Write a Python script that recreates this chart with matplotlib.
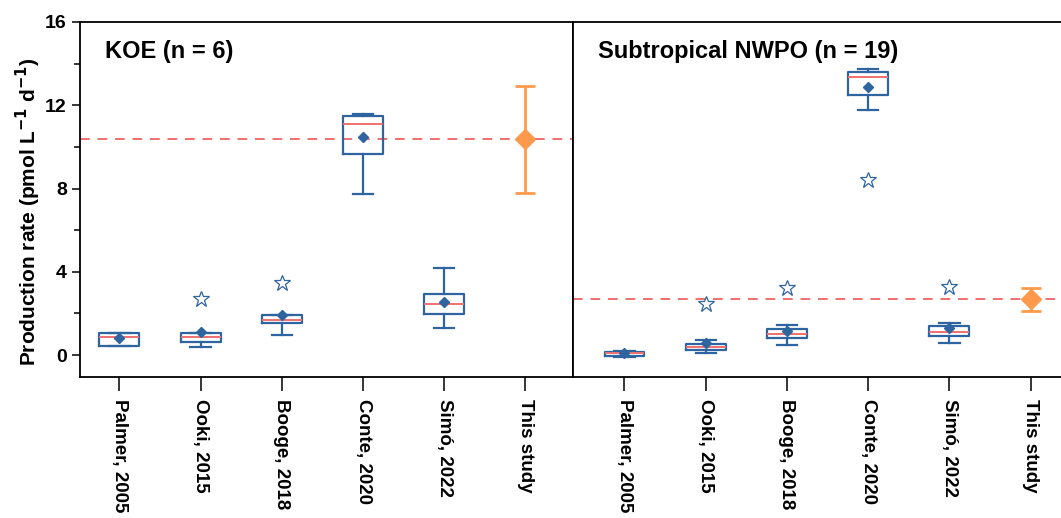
import matplotlib.pyplot as plt
import numpy as np

plt.rcParams['font.family'] = ['Liberation Sans', 'DejaVu Sans']
plt.rcParams['font.weight'] = 'bold'

studies = ['Palmer, 2005', 'Ooki, 2015', 'Booge, 2018', 'Conte, 2020', 'Simó, 2022', 'This study']

# KOE: box stats of earlier studies (whislo, q1, med, q3, whishi, mean, outlier)
koe_whislo = [0.45, 0.38, 0.99, 7.72, 1.28]
koe_q1 = [0.45, 0.61, 1.52, 9.68, 1.96]
koe_med = [0.85, 0.87, 1.68, 11.12, 2.48]
koe_q3 = [1.07, 1.07, 1.94, 11.49, 2.93]
koe_whishi = [1.07, 1.07, 1.94, 11.59, 4.18]
koe_mean = [0.80, 1.09, 1.91, 10.47, 2.56]
koe_fliers = [[], [2.72], [3.48], [], []]
koe_this = 10.37
koe_this_lo = 7.80
koe_this_hi = 12.93

# Subtropical NWPO
nwpo_whislo = [-0.08, 0.11, 0.51, 11.78, 0.58]
nwpo_q1 = [-0.02, 0.24, 0.82, 12.47, 0.90]
nwpo_med = [0.08, 0.40, 1.02, 13.38, 1.11]
nwpo_q3 = [0.16, 0.54, 1.25, 13.59, 1.38]
nwpo_whishi = [0.21, 0.72, 1.44, 13.76, 1.54]
nwpo_mean = [0.08, 0.56, 1.15, 12.90, 1.28]
nwpo_fliers = [[], [2.48], [3.21], [8.41], [3.28]]
nwpo_this = 2.68
nwpo_this_lo = 2.13
nwpo_this_hi = 3.22

blue = '#2e64a0'
red = '#f07070'
orange = '#ff9a4d'


def make_stats(wl, q1, med, q3, wh, mean, fl):
    stats = []
    for i in range(len(wl)):
        stats.append(dict(whislo=wl[i], q1=q1[i], med=med[i], q3=q3[i],
                          whishi=wh[i], mean=mean[i], fliers=fl[i]))
    return stats


def draw_panel(ax, stats, this, lo, hi, title):
    pos = np.arange(1, 6)
    ax.bxp(stats, positions=pos, widths=0.49, showmeans=True, showfliers=True,
           boxprops=dict(color=blue, linewidth=1.6),
           whiskerprops=dict(color=blue, linewidth=1.6),
           capprops=dict(color=blue, linewidth=1.6),
           capwidths=0.25,
           medianprops=dict(color=red, linewidth=1.4),
           meanprops=dict(marker='D', markerfacecolor=blue, markeredgecolor=blue, markersize=5.5),
           flierprops=dict(marker='*', markerfacecolor='white', markeredgecolor=blue,
                           markersize=12, markeredgewidth=0.9))
    ax.errorbar([6], [this], yerr=[[this - lo], [hi - this]], fmt='D', color=orange,
                markersize=10, elinewidth=2, capsize=7, capthick=2, zorder=3)
    ax.axhline(this, color=red, linestyle=(0, (5, 4)), linewidth=1.4, zorder=1)
    ax.set_xticks(np.arange(1, 7))
    ax.set_xticklabels(studies, rotation=270, fontsize=13.5, fontweight='bold',
                       va='top', ha='center')
    ax.text(0.05, 0.95, title, transform=ax.transAxes, fontsize=17,
            fontweight='bold', va='top', ha='left')
    ax.set_ylim(-1.05, 16)
    for s in ax.spines.values():
        s.set_linewidth(1.3)
    ax.tick_params(axis='x', direction='out', length=10, width=1.1, pad=6)


fig = plt.figure(figsize=(10.61, 5.18), dpi=100)
W, H = 1061, 518
ax1 = fig.add_axes([80 / W, 1 - 377 / H, 493 / W, 355 / H])
ax2 = fig.add_axes([573 / W, 1 - 377 / H, 493 / W, 355 / H])

draw_panel(ax1, make_stats(koe_whislo, koe_q1, koe_med, koe_q3, koe_whishi, koe_mean, koe_fliers),
           koe_this, koe_this_lo, koe_this_hi, 'KOE (n = 6)')
draw_panel(ax2, make_stats(nwpo_whislo, nwpo_q1, nwpo_med, nwpo_q3, nwpo_whishi, nwpo_mean, nwpo_fliers),
           nwpo_this, nwpo_this_lo, nwpo_this_hi, 'Subtropical NWPO (n = 19)')

ax1.set_xlim(0.515, 6.585)
ax2.set_xlim(0.366, 6.436)

ax1.set_yticks([0, 4, 8, 12, 16])
ax1.set_yticks([2, 6, 10, 14], minor=True)
ax1.set_yticklabels(['0', '4', '8', '12', '16'], fontsize=14, fontweight='bold')
ax1.tick_params(axis='y', which='major', direction='out', length=6, width=1.1)
ax1.tick_params(axis='y', which='minor', direction='out', length=4, width=1.1)
ax1.set_ylabel('Production rate (pmol L$^\\mathbf{-1}$ d$^\\mathbf{-1}$)',
               fontsize=15, fontweight='bold')
ax1.yaxis.set_label_coords(-0.075, 0.465)
ax2.set_yticks([])

fig.savefig('out.png', dpi=100)
